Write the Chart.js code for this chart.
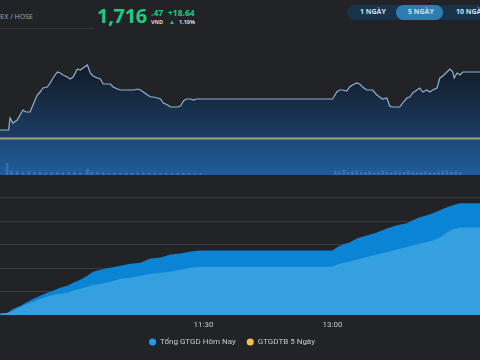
<!DOCTYPE html>
<html>
<head>
<meta charset="utf-8">
<script src="https://cdn.jsdelivr.net/npm/chart.js@4.4.0/dist/chart.umd.min.js"></script>
<style>
  body { margin: 0; width: 480px; height: 360px; overflow: hidden; position: relative; background: #212327; font-family: "Open Sans", "Noto Sans", sans-serif; }
  .abs { position: absolute; white-space: nowrap; }
  #market { left: -22px; top: 12px; font-family: "Noto Sans"; font-size: 7px; color: #9aa1a9; }
  #rule { left: 0; top: 28px; width: 95px; height: 1px; background: #33363b; }
  #last { left: 97px; top: 2px; font-size: 20px; font-weight: 700; color: #1ecb80; letter-spacing: -0.3px; }
  #dec { left: 151px; top: 7px; font-size: 8.5px; font-weight: 700; color: #1ecb80; }
  #unit { left: 151px; top: 18px; font-size: 5.5px; font-weight: 700; color: #d8dde2; }
  #chg { left: 168px; top: 7px; font-size: 8.5px; font-weight: 700; color: #1ecb80; }
  #tri { left: 169px; top: 18px; font-size: 6px; color: #1ecb80; }
  #pct { left: 179px; top: 18px; font-size: 5.5px; font-weight: 700; color: #d8dde2; }
  #tabs { left: 347px; top: 5px; width: 160px; height: 15px; border-radius: 8px; background: #18344d; }
  #active { left: 396px; top: 5px; width: 47px; height: 15px; border-radius: 8px; background: #2d7eb0; }
  .tab { top: 7px; font-size: 7px; font-weight: 700; color: #cfe0ee; }
  canvas { position: absolute; left: 0; }
</style>
</head>
<body>
<div class="abs" id="market">VNINDEX / HOSE</div>
<div class="abs" id="rule"></div>
<div class="abs" id="last">1,716</div>
<div class="abs" id="dec">.47</div>
<div class="abs" id="unit">VND</div>
<div class="abs" id="chg">+18.64</div>
<div class="abs" id="tri">▲</div>
<div class="abs" id="pct">1.10%</div>
<div class="abs" id="tabs"></div>
<div class="abs" id="active"></div>
<div class="abs tab" style="left:360px">1 NGÀY</div>
<div class="abs tab" style="left:408px">5 NGÀY</div>
<div class="abs tab" style="left:456px">10 NGÀY</div>

<canvas id="valueChart" width="480" height="182" style="top:174px"></canvas>
<canvas id="volChart" width="480" height="35" style="top:140px"></canvas>
<canvas id="priceChart" width="480" height="110" style="top:30px"></canvas>

<script>
// intraday VNINDEX
const priceTimes = ['09:00','09:14','09:15','09:17','09:20','09:22','09:24','09:26','09:29','09:31',
  '09:34','09:36','09:38','09:41','09:43','09:45','09:48','09:50','09:52','09:55',
  '09:57','09:59','10:02','10:04','10:06','10:09','10:11','10:13','10:16','10:18',
  '10:20','10:23','10:25','10:27','10:30','10:32','10:34','10:37','10:39','10:41',
  '10:44','10:46','10:48','10:51','10:53','10:55','10:58','11:00','11:02','11:05',
  '11:07','11:09','11:12','11:14','11:16','11:18','11:21','11:23','11:25','11:28',
  '11:30','13:00','13:01','13:03','13:05','13:07','13:10','13:12','13:14','13:17',
  '13:19','13:21','13:24','13:26','13:28','13:31','13:33','13:35','13:38','13:40',
  '13:42','13:45','13:47','13:49','13:52','13:54','13:56','13:59','14:01','14:03',
  '14:06','14:08','14:10','14:13','14:15','14:17','14:20','14:22','14:24','14:25',
  '14:27','14:29','14:31','14:45'];
const priceValues = [1700.21,1700.21,1703.58,1702.17,1703.02,1704.42,1705.82,1705.26,1705.26,1707.22,
  1710.02,1710.86,1711.98,1712.27,1713.39,1714.79,1716.47,1716.19,1715.63,1715.07,
  1714.51,1715.07,1717.31,1717.03,1717.59,1718.43,1716.19,1715.35,1714.79,1714.51,
  1713.11,1713.11,1713.11,1712.27,1711.70,1711.42,1711.42,1711.42,1711.42,1711.42,
  1711.70,1711.42,1710.86,1710.02,1709.46,1709.46,1709.18,1708.90,1707.78,1707.22,
  1706.66,1706.66,1706.66,1706.94,1708.34,1708.90,1708.90,1708.62,1708.90,1708.90,
  1708.90,1708.90,1709.46,1710.86,1711.42,1711.42,1711.14,1712.27,1712.83,1713.39,
  1713.11,1712.27,1711.42,1711.42,1711.42,1710.02,1709.46,1708.90,1709.18,1706.94,
  1706.66,1706.66,1706.66,1707.78,1709.18,1709.46,1710.58,1711.42,1711.98,1710.86,
  1711.42,1710.86,1711.42,1711.98,1714.79,1715.35,1716.47,1717.31,1716.47,1714.79,
  1716.19,1715.63,1716.47,1716.47];
const refPrice = 1697.83;

// khoi luong (trieu cp)
const volTimes = ['09:13','09:16','09:20','09:24','09:28','09:32','09:36','09:40','09:44','09:48',
  '09:52','09:56','10:00','10:04','10:09','10:12','10:16','10:20','10:24','10:28',
  '10:32','10:36','10:40','10:44','10:48','10:52','10:56','11:00','11:04','11:08',
  '11:12','11:16','11:20','11:24','11:28','13:02','13:05','13:08','13:11','13:14',
  '13:17','13:20','13:23','13:26','13:29','13:32','13:35','13:38','13:41','13:44',
  '13:47','13:50','13:53','13:56','13:59','14:02','14:05','14:08','14:11','14:14',
  '14:17','14:20','14:23','14:26','14:29'];
const volValues = [40,14,12,10,12,9,10,8,10,9,
  8,10,9,8,20,10,9,8,7,8,
  7,8,7,7,8,7,7,6,7,6,
  7,6,7,6,6,14,12,18,10,12,
  14,10,9,12,8,10,14,9,8,12,
  10,9,14,11,9,10,12,9,8,10,
  14,12,10,11,9];

// gia tri giao dich luy ke (ty dong)
const valueTimes = ['09:00','09:13','09:17','09:22','09:27','09:31','09:36','09:41','09:45','09:50',
  '09:55','09:59','10:04','10:09','10:13','10:18','10:25','10:32','10:39','10:46',
  '10:53','11:00','11:07','11:14','11:21','11:28','11:30','13:00','13:03','13:07',
  '13:12','13:17','13:24','13:31','13:38','13:45','13:52','13:56','14:01','14:06',
  '14:10','14:15','14:20','14:24','14:29','14:45'];
const totalValues = [0,430,1290,1930,2790,3430,4070,4710,5140,5790,
  6210,6860,7500,8360,9210,9640,10070,10500,10930,11140,
  12000,12210,12860,13070,13500,13720,13720,13720,14360,15000,
  15430,16290,16930,17570,18430,19070,19500,20140,20790,21220,
  21640,22290,22930,23360,23790,23790];
const matchedValues = [0,430,860,1710,2360,2790,3430,3860,4290,4500,
  4710,5140,5570,6000,6430,6640,7070,7710,7930,8360,
  8790,9000,9210,9640,10070,10290,10290,10290,10710,11040,
  11360,11790,12320,12860,13390,13930,14470,14790,15210,15540,
  15860,16500,17570,18220,18640,18640];

const legendNames = ['Tổng GTGD Hôm Nay', 'GTGDTB 5 Ngày'];
const legendColors = ['#1c9cf2', '#f6c244'];
const axisTicks = ['11:30', '13:00'];
const xMin = '09:08';
const xMax = '14:43';

const toMin = s => { const p = s.split(':'); return +p[0] * 60 + +p[1]; };
const fmt = v => String(Math.floor(v / 60)).padStart(2, '0') + ':' + String(v % 60).padStart(2, '0');
const pts = (times, vals) => times.map((t, i) => ({ x: toMin(t), y: vals[i] }));

const xHidden = { type: 'linear', min: toMin(xMin), max: toMin(xMax), display: false };

new Chart(document.getElementById('priceChart'), {
  type: 'line',
  data: {
    datasets: [{
      data: pts(priceTimes, priceValues),
      borderColor: '#8fb4d3',
      borderWidth: 1.2,
      pointRadius: 0,
      tension: 0,
      fill: 'start',
      order: 2,
      backgroundColor: ctx => {
        const a = ctx.chart.chartArea;
        if (!a) return 'transparent';
        const g = ctx.chart.ctx.createLinearGradient(0, a.top, 0, a.bottom);
        g.addColorStop(0, '#0f131a');
        g.addColorStop(0.35, '#131c29');
        g.addColorStop(1, '#1d3e66');
        return g;
      }
    }, {
      data: [{ x: toMin(xMin), y: refPrice }, { x: toMin(xMax), y: refPrice }],
      borderColor: '#a7a17d',
      borderWidth: 2,
      pointRadius: 0,
      fill: false,
      order: 1
    }]
  },
  options: {
    responsive: false,
    animation: false,
    layout: { padding: 0 },
    plugins: { legend: { display: false }, tooltip: { enabled: false } },
    scales: {
      x: xHidden,
      y: { display: false, min: 1697.41, max: 1728.24 }
    }
  }
});

const panelBg = {
  id: 'panelBg',
  beforeDraw(chart) {
    const { ctx, chartArea: a } = chart;
    const g = ctx.createLinearGradient(0, a.top, 0, a.bottom);
    g.addColorStop(0, '#1c497a');
    g.addColorStop(1, '#215c98');
    ctx.fillStyle = g;
    ctx.fillRect(a.left, a.top, a.width, a.height);
  }
};

new Chart(document.getElementById('volChart'), {
  type: 'bar',
  data: {
    datasets: [{
      data: pts(volTimes, volValues),
      backgroundColor: 'rgba(88,150,214,0.4)',
      barThickness: 2
    }]
  },
  options: {
    responsive: false,
    animation: false,
    layout: { padding: 0 },
    plugins: { legend: { display: false }, tooltip: { enabled: false } },
    scales: {
      x: { type: 'linear', min: toMin(xMin), max: toMin(xMax), display: false, offset: false },
      y: { display: false, min: 0, max: 120 }
    }
  },
  plugins: [panelBg]
});

// legend sits a little left of centre in the original page
const legendShift = {
  id: 'legendShift',
  afterLayout(chart) {
    chart.legend.left -= 8;
    chart.legend.right -= 8;
  }
};

new Chart(document.getElementById('valueChart'), {
  type: 'line',
  data: {
    datasets: [{
      label: legendNames[0],
      data: pts(valueTimes, totalValues),
      borderWidth: 0,
      pointRadius: 0,
      fill: 'origin',
      backgroundColor: '#0b84d6',
      order: 2
    }, {
      label: 'GTGD khớp lệnh',
      data: pts(valueTimes, matchedValues),
      borderWidth: 0,
      pointRadius: 0,
      fill: 'origin',
      backgroundColor: '#35a0df',
      order: 1
    }]
  },
  options: {
    responsive: false,
    animation: false,
    layout: { padding: 0 },
    plugins: {
      tooltip: { enabled: false },
      legend: {
        position: 'bottom',
        labels: {
          usePointStyle: true,
          boxWidth: 7,
          boxHeight: 5,
          padding: 11,
          color: '#c5c9cf',
          font: { family: 'Roboto', size: 8 },
          generateLabels: () => legendNames.map((t, i) => ({
            text: t,
            fillStyle: legendColors[i],
            strokeStyle: legendColors[i],
            fontColor: '#c5c9cf',
            lineWidth: 0,
            pointStyle: 'circle',
            hidden: false,
            datasetIndex: i
          }))
        }
      }
    },
    scales: {
      x: {
        type: 'linear',
        min: toMin(xMin),
        max: toMin(xMax),
        grid: { display: false, drawTicks: false },
        border: { display: false },
        afterBuildTicks: s => { s.ticks = axisTicks.map(t => ({ value: toMin(t) })); },
        afterFit: s => { s.height = 12; },
        ticks: {
          padding: 5,
          maxRotation: 0,
          color: '#c3c7cc',
          font: { family: 'Roboto', size: 8 },
          callback: v => fmt(v)
        }
      },
      y: {
        min: 0,
        max: 30000,
        display: true,
        border: { display: false },
        grid: {
          drawTicks: false,
          color: c => (c.tick.value === 0 || c.tick.value === 30000) ? 'transparent' : '#3b3d42'
        },
        afterFit: s => { s.width = 0; },
        ticks: { stepSize: 5000, display: false }
      }
    }
  },
  plugins: [legendShift]
});
</script>
</body>
</html>
